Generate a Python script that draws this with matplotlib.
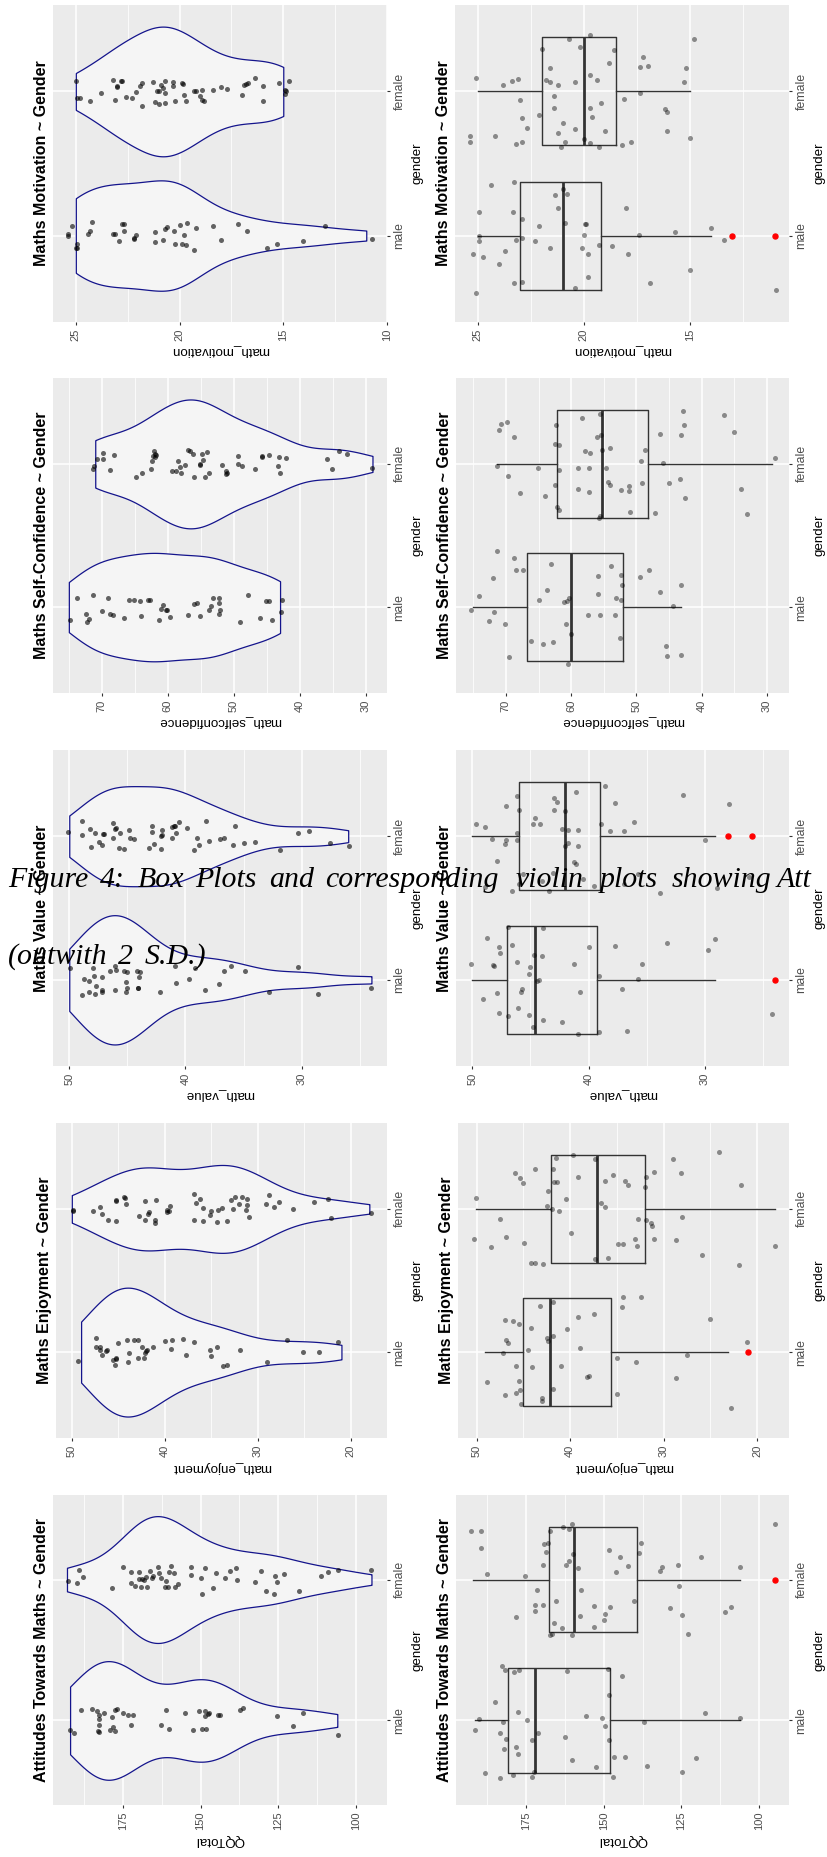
import numpy as np
import matplotlib
matplotlib.use("Agg")
import matplotlib.pyplot as plt

plt.rcParams['font.family'] = ['Liberation Sans', 'DejaVu Sans']

# ---------------- text / categories ----------------
TITLES = ["Maths Motivation ~ Gender", "Maths Self-Confidence ~ Gender",
          "Maths Value ~ Gender", "Maths Enjoyment ~ Gender",
          "Attitudes Towards Maths ~ Gender"]
YLABELS = ["math_motivation", "math_selfconfidence", "math_value",
           "math_enjoyment", "QQTotal"]
CATEGORIES = ["male", "female"]
MAJOR_TICKS = [[10, 15, 20, 25], [30, 40, 50, 60, 70], [30, 40, 50],
               [20, 30, 40, 50], [100, 125, 150, 175]]
CAPTION_1_WORDS = ["Figure", "4:", "Box", "Plots", "and", "corresponding", "violin", "plots", "showing", "Att"]
CAPTION_2_WORDS = ["(outwith", "2", "S.D.)"]

# ---------------- data ----------------
# violin panels: jittered values and jitter offsets (category units)
MOT_VIO_M = [25.37, 25.37, 25.2, 25.0, 24.94, 24.94, 24.4, 24.3, 24.2, 23.2, 23.1, 22.9, 22.75, 22.7, 22.7,
             22.2, 22.2, 22.1, 21.2, 21.2, 20.8, 20.7, 20.6, 20.25, 20.2, 20.0, 19.9, 19.8, 19.7, 19.65,
             19.3, 19.2, 18.4, 18.0, 17.2, 16.75, 15.8, 15.3, 14.05, 13.0, 10.7]
MOT_VIO_M_J = [0.012, 0.0, 0.069, -0.085, -0.085, -0.062, 0.012, 0.03, 0.095, 0.014, 0.012, -0.039, 0.081,
               0.081, 0.035, -0.016, -0.025, 0.007, 0.023, -0.044, -0.028, 0.048, 0.058, 0.03, -0.062, 0.076,
               -0.062, 0.007, -0.069, 0.088, -0.097, 0.053, 0.069, -0.028, 0.081, 0.035, -0.085, -0.062,
               -0.035, 0.069, -0.021]
MOT_VIO_F = [24.97, 24.94, 24.8, 24.3, 23.8, 23.2, 23.1, 23.0, 23.0, 22.8, 22.75, 22.6, 22.3, 22.1, 21.9,
             21.8, 21.8, 21.3, 21.2, 21.1, 21.0, 21.0, 20.9, 20.8, 20.7, 20.7, 20.7, 20.3, 20.3, 20.2, 19.9,
             19.85, 19.8, 19.7, 19.3, 19.2, 18.9, 19.0, 18.9, 18.8, 18.4, 18.0, 17.7, 17.0, 16.9, 16.8, 16.7,
             16.35, 16.0, 16.0, 15.2, 14.9, 14.9, 14.85, 14.7]
MOT_VIO_F_J = [0.074, -0.046, -0.046, -0.065, -0.012, 0.081, -0.06, 0.028, 0.035, 0.076, 0.076, -0.039,
               -0.046, -0.005, 0.035, 0.058, -0.1, 0.069, -0.072, 0.0, -0.085, 0.005, 0.046, 0.023, 0.076,
               -0.081, -0.012, 0.069, 0.035, -0.069, 0.058, 0.051, -0.023, -0.065, 0.0, 0.0, 0.007, -0.035,
               -0.06, -0.069, 0.009, 0.028, 0.016, -0.028, 0.042, 0.051, 0.062, 0.09, -0.065, 0.035, 0.058,
               -0.018, 0.012, 0.0, 0.076]

SC_VIO_M = [74.8, 73.8, 72.4, 72.2, 71.9, 71.3, 70.05, 69.1, 68.7, 68.3, 66.6, 65.9, 65.2, 64.2, 64.0, 63.0,
            62.7, 61.3, 61.0, 60.75, 60.35, 60.15, 59.6, 57.0, 56.1, 55.6, 55.1, 53.7, 53.5, 53.1, 52.3, 52.2,
            52.3, 52.1, 49.1, 47.9, 46.1, 45.1, 44.75, 44.2, 42.9, 42.7]
SC_VIO_M_J = [-0.093, 0.063, -0.047, -0.105, -0.081, 0.086, -0.028, 0.063, -0.047, -0.056, -0.074, 0.051,
              0.051, 0.042, -0.063, 0.047, 0.053, -0.088, -0.012, 0.016, -0.023, -0.023, -0.07, -0.056, 0.019,
              0.028, -0.063, -0.019, 0.005, 0.063, 0.03, 0.065, -0.047, -0.023, -0.105, 0.081, -0.074, 0.042,
              0.042, -0.088, -0.035, 0.047]
SC_VIO_F = [71.3, 71.2, 70.7, 69.85, 69.75, 68.1, 68.8, 64.8, 63.9, 62.5, 62.4, 62.3, 62.1, 61.9, 61.8, 62.0,
            59.4, 58.7, 58.4, 58.1, 58.0, 57.4, 56.9, 56.6, 56.2, 56.1, 55.2, 55.1, 54.9, 54.7, 54.3, 54.1,
            53.7, 51.8, 51.2, 51.2, 51.1, 49.4, 49.4, 48.7, 46.8, 45.8, 45.7, 44.7, 43.3, 43.1, 43.0, 42.1,
            35.9, 35.15, 34.1, 32.8, 29.1]
SC_VIO_F_J = [-0.035, -0.012, 0.035, 0.079, 0.035, 0.063, -0.04, -0.088, -0.06, -0.037, 0.023, 0.058, 0.093,
              0.07, 0.065, 0.047, -0.053, -0.053, 0.023, -0.023, -0.065, -0.005, 0.098, 0.088, 0.07, -0.093,
              -0.005, 0.0, 0.07, 0.028, -0.093, 0.086, -0.06, -0.005, -0.047, -0.07, -0.065, 0.058, 0.0,
              -0.014, -0.037, 0.056, 0.051, 0.063, -0.012, 0.049, -0.06, 0.042, 0.035, -0.035, 0.093, 0.07,
              -0.03]

VAL_VIO_M = [49.9, 48.9, 48.7, 48.3, 48.3, 47.9, 47.8, 47.7, 47.2, 47.2, 47.2, 46.1, 46.0, 46.1, 45.3, 45.1,
             45.1, 45.0, 45.0, 44.2, 44.0, 43.9, 44.1, 44.1, 42.2, 40.9, 40.8, 39.7, 39.2, 38.3, 37.1, 36.7,
             36.1, 34.9, 32.8, 30.3, 28.6, 24.0, 46.5, 48.0]
VAL_VIO_M_J = [0.079, -0.105, 0.005, -0.084, -0.007, 0.026, -0.096, -0.042, -0.084, -0.07, 0.019, 0.093,
               0.065, -0.068, 0.063, -0.014, -0.082, -0.054, 0.051, 0.063, 0.021, 0.056, -0.054, -0.054,
               -0.082, 0.093, -0.023, 0.007, 0.079, -0.068, -0.028, 0.063, 0.093, 0.063, -0.082, 0.089,
               -0.096, -0.054, 0.06, 0.08]
VAL_VIO_F = [50.1, 48.9, 48.9, 48.2, 48.1, 47.8, 47.4, 47.2, 47.1, 47.0, 46.2, 46.2, 46.1, 46.0, 45.7, 45.6,
             45.3, 44.9, 44.8, 44.4, 43.1, 42.9, 42.9, 42.7, 42.1, 42.05, 42.1, 42.0, 41.2, 41.2, 41.0, 40.9,
             40.8, 40.6, 39.9, 39.3, 39.0, 38.8, 38.2, 38.0, 37.0, 36.7, 35.9, 35.7, 35.0, 34.0, 31.9, 30.3,
             29.4, 27.6, 25.9]
VAL_VIO_F_J = [0.03, 0.105, 0.007, 0.051, -0.075, 0.021, -0.04, -0.063, 0.014, 0.016, 0.091, -0.014, 0.049,
               0.056, -0.082, 0.021, -0.089, 0.042, -0.014, -0.021, -0.084, 0.072, 0.03, -0.056, -0.089,
               0.044, 0.002, 0.007, -0.014, 0.061, 0.068, 0.072, 0.021, 0.1, 0.056, -0.096, -0.014, -0.063,
               0.107, -0.033, -0.021, -0.014, -0.063, 0.072, -0.049, -0.04, -0.096, 0.021, 0.037, -0.049,
               -0.068]

ENJ_VIO_M = [49.3, 47.4, 47.4, 47.0, 47.0, 46.8, 46.3, 46.2, 45.6, 45.35, 45.2, 45.2, 45.0, 44.1, 44.0,
             43.85, 43.3, 42.9, 42.9, 42.4, 42.2, 42.1, 42.05, 41.9, 41.3, 40.0, 39.2, 39.3, 38.0, 37.75, 36.9,
             35.1, 35.0, 34.4, 33.7, 33.35, 31.9, 29.0, 26.9, 25.1, 23.4, 21.35]
ENJ_VIO_M_J = [-0.06, 0.097, 0.035, 0.039, 0.016, -0.019, 0.007, 0.016, -0.058, -0.088, -0.049, -0.042,
               0.0625, 0.086, -0.069, -0.007, 0.081, 0.086, -0.042, 0.035, -0.042, -0.007, 0.005, 0.012,
               0.039, 0.079, 0.086, 0.021, 0.09, -0.021, 0.069, 0.012, -0.03, 0.039, -0.095, -0.09, 0.016,
               -0.069, 0.086, 0.0, 0.0, 0.072]
ENJ_VIO_F = [49.9, 49.9, 47.7, 47.0, 46.8, 46.1, 45.2, 45.2, 45.2, 44.4, 44.3, 44.2, 42.8, 42.1, 42.1, 41.8,
             41.7, 41.0, 41.0, 40.9, 39.8, 39.8, 39.6, 39.4, 36.9, 36.9, 36.6, 36.2, 35.9, 35.9, 35.1, 35.0,
             34.4, 34.3, 33.8, 33.35, 32.9, 32.7, 32.4, 32.0, 31.7, 31.2, 31.2, 31.3, 30.9, 29.1, 28.8, 28.3,
             27.7, 26.2, 23.9, 22.4, 22.1, 17.8]
ENJ_VIO_F_J = [-0.005, -0.012, -0.012, 0.012, -0.035, -0.074, 0.0625, 0.058, -0.081, 0.086, 0.076, 0.035,
               -0.049, 0.056, -0.074, -0.035, -0.019, -0.076, -0.097, 0.0625, -0.005, -0.023, -0.012, 0.019,
               0.104, -0.074, 0.039, 0.069, 0.005, -0.081, -0.042, -0.012, -0.09, -0.007, 0.005, -0.081,
               0.0625, -0.002, 0.081, 0.032, 0.081, 0.069, 0.028, -0.005, -0.056, 0.032, 0.095, 0.012, 0.049,
               -0.002, 0.051, 0.069, -0.0625, -0.028]

QQ_VIO_M = [191.9, 190.6, 188.6, 185.0, 183.3, 182.8, 182.7, 182.7, 183.1, 182.8, 181.2, 179.3, 178.4, 178.2,
            177.7, 177.4, 176.9, 175.0, 173.4, 172.3, 171.8, 162.6, 161.25, 160.2, 154.9, 152.5, 150.6, 149.4,
            148.5, 148.1, 148.5, 147.6, 147.3, 144.4, 143.6, 137.4, 136.5, 125.4, 120.2, 117.0, 105.7]
QQ_VIO_M_J = [-0.071, -0.087, 0.076, 0.08, 0.069, 0.04, 0.012, -0.035, -0.076, -0.083, 0.052, -0.066, 0.024,
              -0.043, -0.076, 0.071, 0.078, 0.054, 0.04, -0.035, 0.04, -0.031, 0.076, -0.059, 0.054, -0.071,
              0.064, -0.059, 0.064, -0.064, 0.035, 0.047, 0.054, 0.04, 0.04, 0.071, 0.087, 0.033, -0.038,
              0.054, -0.102]
QQ_VIO_F = [192.7, 189.8, 189.2, 187.7, 178.5, 175.0, 172.3, 172.3, 171.2, 169.8, 169.8, 169.1, 168.8, 168.3,
            167.5, 167.4, 166.2, 165.7, 165.3, 163.6, 163.4, 162.6, 161.4, 161.0, 160.5, 160.2, 159.4, 158.7,
            158.25, 157.2, 153.2, 153.0, 150.0, 149.5, 148.7, 145.9, 144.9, 142.0, 140.6, 138.6, 138.25, 132.6,
            130.7, 128.8, 126.45, 125.9, 125.3, 123.2, 118.4, 111.4, 109.0, 105.8, 95.0]
QQ_VIO_F_J = [-0.007, -0.026, 0.066, 0.017, -0.059, 0.092, 0.052, -0.026, -0.047, 0.057, 0.002, -0.054, 0.005,
              -0.002, 0.021, -0.05, 0.061, 0.012, 0.028, 0.087, 0.045, 0.012, -0.05, -0.009, -0.05, 0.052,
              0.099, 0.05, -0.05, -0.031, 0.092, 0.031, 0.009, -0.102, 0.083, -0.059, 0.045, 0.009, 0.064,
              0.08, -0.002, -0.019, 0.064, -0.078, -0.102, 0.024, -0.019, 0.038, -0.078, 0.024, 0.054, 0.069,
              0.066]

# box-plot panels: jittered values and jitter offsets
MOT_BOX_M = [24.4, 23.3, 24.95, 23.35, 22.9, 22.13, 21.2, 21.36, 21.0, 20.8, 20.9, 19.95, 19.9, 24.97, 24.95,
             25.25, 24.76, 24.0, 23.7, 23.2, 22.9, 22.3, 21.6, 20.0, 20.1, 19.8, 19.3, 18.7, 18.0, 17.9, 17.4,
             15.7, 14.0, 13.4, 15.0, 16.9, 19.8, 20.4, 22.9, 23.3, 25.1, 10.96]
MOT_BOX_M_J = [0.35, 0.375, 0.16, 0.16, 0.115, 0.067, 0.19, 0.28, 0.325, 0.29, 0.088, 0.077, 0.077, -0.035,
               -0.005, -0.13, -0.146, -0.2, -0.11, -0.03, -0.014, -0.04, -0.086, 0.007, -0.086, -0.13, -0.065,
               -0.07, 0.19, -0.125, 0.007, 0.028, 0.051, -0.028, -0.24, -0.33, -0.285, -0.365, -0.325, -0.33,
               -0.4, -0.38]
MOT_BOX_F = [19.7, 20.7, 14.8, 22.0, 20.2, 18.6, 18.8, 21.6, 17.35, 17.0, 17.2, 15.2, 19.7, 19.4, 21.8, 21.6,
             21.2, 20.4, 25.1, 23.8, 23.4, 23.1, 15.3, 17.35, 18.1, 23.0, 21.4, 19.2, 21.4, 19.7, 19.6, 16.2,
             16.1, 22.1, 22.9, 21.0, 22.7, 20.4, 19.0, 16.1, 25.35, 25.35, 24.2, 21.2, 20.0, 20.9, 22.9, 23.2,
             21.1, 19.7, 19.3, 18.2, 17.8, 15.0]
MOT_BOX_F_J = [0.39, 0.365, 0.365, 0.295, 0.31, 0.288, 0.197, 0.162, 0.172, 0.179, 0.237, 0.162, 0.116, 0.081,
               0.081, 0.063, 0.046, 0.067, 0.095, 0.046, 0.07, 0.086, 0.067, -0.014, -0.049, -0.056, -0.035,
               -0.077, -0.116, -0.116, -0.179, -0.123, -0.142, -0.165, -0.186, -0.22, -0.255, -0.26, -0.276,
               -0.276, -0.31, -0.35, -0.31, -0.29, -0.327, -0.35, -0.35, -0.367, -0.385, -0.36, -0.385,
               -0.373, -0.35, -0.322]

SC_BOX_M = [71.3, 68.7, 68.4, 67.4, 72.0, 63.1, 53.9, 48.0, 49.5, 52.4, 55.9, 52.2, 43.2, 63.7, 74.1, 64.9,
            61.1, 60.7, 60.4, 55.9, 53.1, 52.4, 46.4, 75.4, 71.9, 72.6, 70.1, 60.8, 60.05, 57.4, 55.5, 53.2,
            44.4, 66.1, 64.3, 62.8, 52.5, 69.5, 60.5, 45.4, 45.3, 43.2]
SC_BOX_M_J = [0.39, 0.345, 0.26, 0.26, 0.205, 0.3, 0.286, 0.26, 0.21, 0.226, 0.219, 0.156, 0.156, 0.121, 0.074,
              0.053, 0.035, 0.042, 0.065, 0.093, 0.065, 0.053, 0.102, -0.023, -0.035, -0.098, -0.116, -0.116,
              -0.186, -0.058, -0.058, -0.058, 0.005, -0.237, -0.256, -0.242, -0.219, -0.349, -0.4, -0.27,
              -0.344, -0.337]
SC_BOX_F = [58.4, 55.5, 42.9, 36.5, 69.85, 70.8, 71.1, 62.3, 68.8, 55.4, 56.0, 46.4, 43.1, 42.7, 35.05, 62.4,
            61.9, 57.8, 57.1, 55.2, 54.1, 48.7, 49.3, 45.9, 71.4, 65.1, 59.0, 57.2, 54.7, 61.9, 28.8, 69.7,
            54.4, 54.1, 49.1, 45.0, 43.3, 62.5, 58.9, 57.2, 52.4, 51.1, 51.1, 33.9, 67.9, 64.0, 42.6, 62.2,
            61.9, 55.7, 55.5, 51.0, 47.2, 33.1]
SC_BOX_F_J = [0.319, 0.349, 0.367, 0.344, 0.29, 0.279, 0.237, 0.272, 0.19, 0.205, 0.19, 0.209, 0.202, 0.272,
              0.223, 0.14, 0.135, 0.093, 0.079, 0.1, 0.112, 0.098, 0.023, 0.007, -0.014, -0.03, -0.026, -0.03,
              -0.026, -0.042, 0.04, -0.086, -0.128, -0.147, -0.135, -0.135, -0.107, -0.147, -0.174, -0.195,
              -0.181, -0.153, -0.186, -0.174, -0.205, -0.223, -0.235, -0.298, -0.321, -0.377, -0.367, -0.333,
              -0.34, -0.349]

VAL_BOX_M = [46.9, 43.9, 48.7, 46.6, 40.0, 37.7, 33.3, 29.1, 47.7, 47.6, 29.7, 44.7, 44.0, 50.1, 48.2, 48.1,
             46.2, 41.3, 35.4, 45.0, 45.1, 39.1, 35.8, 44.3, 44.4, 49.1, 47.9, 45.7, 45.8, 40.7, 37.1, 46.1,
             47.7, 46.9, 45.1, 43.9, 42.3, 44.8, 40.9, 39.1, 36.7, 24.2]
VAL_BOX_M_J = [0.371, 0.36, 0.29, 0.243, 0.227, 0.234, 0.257, 0.283, 0.227, 0.187, 0.208, 0.173, 0.166, 0.11,
               0.103, 0.096, 0.126, 0.11, 0.11, 0.089, 0.04, 0.026, 0.009, -0.002, -0.007, -0.131, -0.089,
               -0.061, -0.082, -0.082, -0.061, -0.194, -0.234, -0.255, -0.248, -0.283, -0.297, -0.329, -0.374,
               -0.36, -0.353, -0.241]
VAL_BOX_F = [38.6, 41.1, 31.9, 27.9, 46.2, 42.95, 42.7, 47.1, 46.0, 42.95, 42.0, 37.7, 44.6, 44.8, 44.2, 49.7,
             48.9, 36.1, 38.9, 42.3, 41.8, 40.9, 38.2, 37.0, 46.2, 48.3, 47.1, 46.2, 30.0, 47.2, 42.0, 41.8,
             40.9, 47.9, 41.3, 41.1, 45.6, 43.1, 35.8, 46.0, 48.9, 46.6, 43.4, 37.0, 33.9, 29.0, 26.2, 44.0,
             39.5, 40.5]
VAL_BOX_F_J = [0.346, 0.306, 0.285, 0.222, 0.283, 0.264, 0.236, 0.208, 0.182, 0.182, 0.175, 0.231, 0.126,
               0.084, 0.084, 0.084, 0.063, 0.098, 0.084, 0.049, 0.044, 0.044, 0.037, 0.037, 0.021, -0.021,
               -0.026, -0.026, -0.026, -0.056, -0.068, -0.049, -0.068, -0.171, -0.178, -0.194, -0.266, -0.259,
               -0.266, -0.334, -0.357, -0.381, -0.381, -0.334, -0.393, -0.36, -0.283, -0.31, -0.35, -0.3]

ENJ_BOX_M = [41.8, 43.2, 37.5, 39.2, 34.4, 34.5, 32.4, 47.0, 46.1, 45.5, 44.2, 40.3, 25.1, 46.9, 46.7, 42.5,
             42.4, 41.8, 47.2, 44.5, 38.9, 21.1, 35.0, 33.0, 27.5, 45.8, 44.1, 41.0, 38.2, 38.0, 28.7, 48.9,
             45.5, 45.4, 45.8, 47.0, 41.8, 43.0, 43.0, 45.3, 35.0, 22.75]
ENJ_BOX_M_J = [0.35, 0.319, 0.268, 0.245, 0.382, 0.315, 0.382, 0.227, 0.22, 0.199, 0.171, 0.164, 0.234, 0.083,
               0.062, 0.097, 0.079, 0.111, -0.007, 0.016, 0.028, 0.069, -0.042, -0.069, -0.023, -0.095, -0.104,
               -0.095, -0.176, -0.169, -0.18, -0.21, -0.204, -0.266, -0.285, -0.303, -0.257, -0.319, -0.343,
               -0.361, -0.292, -0.389]
ENJ_BOX_F = [39.7, 41.5, 37.4, 24.1, 29.0, 43.8, 45.9, 45.4, 45.1, 41.8, 41.75, 41.4, 39.2, 35.4, 36.25, 34.1,
             33.8, 31.9, 31.0, 28.1, 32.0, 21.7, 42.4, 50.1, 40.4, 42.5, 41.9, 41.25, 36.75, 36.3, 47.5, 32.75,
             31.9, 31.4, 31.25, 28.0, 50.25, 46.9, 44.9, 39.9, 48.5, 34.9, 34.4, 33.1, 32.9, 31.0, 28.7, 25.9,
             44.2, 43.8, 42.9, 37.3, 36.0, 21.9, 18.1]
ENJ_BOX_F_J = [0.377, 0.359, 0.347, 0.394, 0.35, 0.278, 0.252, 0.213, 0.183, 0.278, 0.19, 0.19, 0.225, 0.238,
               0.192, 0.192, 0.164, 0.225, 0.259, 0.248, 0.15, 0.169, 0.127, 0.076, 0.067, 0.019, 0.0, -0.012,
               0.042, 0.012, -0.069, -0.069, -0.076, -0.1, -0.118, -0.056, -0.213, -0.199, -0.241, -0.167,
               -0.266, -0.248, -0.248, -0.213, -0.259, -0.213, -0.22, -0.322, -0.377, -0.375, -0.384, -0.352,
               -0.34, -0.389, -0.262]

QQ_BOX_M = [182.7, 181.9, 178.75, 177.1, 161.7, 144.0, 148.6, 148.4, 185.1, 177.6, 190.0, 182.5, 174.8, 155.6,
            150.5, 149.5, 136.9, 117.4, 106.1, 191.5, 183.25, 181.4, 173.1, 171.1, 162.6, 148.4, 182.2, 178.1,
            177.4, 160.2, 146.8, 143.1, 120.25, 188.3, 183.5, 179.3, 173.1, 172.5, 152.5, 147.1, 136.0, 124.9]
QQ_BOX_M_J = [0.389, 0.36, 0.341, 0.358, 0.353, 0.318, 0.365, 0.178, 0.13, 0.062, 0.012, -0.012, 0.0, 0.033,
              0.019, -0.04, -0.012, 0.055, 0.019, -0.071, -0.088, -0.13, -0.142, -0.088, -0.116, -0.142, -0.204,
              -0.185, -0.237, -0.284, -0.256, -0.256, -0.268, -0.374, -0.41, -0.389, -0.403, -0.363, -0.332,
              -0.398, -0.325, -0.367]
QQ_BOX_F = [160.3, 163.1, 161.3, 192.6, 189.5, 167.2, 189.3, 169.3, 168.0, 168.4, 148.4, 144.9, 137.9, 138.5,
            118.6, 162.25, 161.1, 159.9, 169.5, 158.4, 187.4, 175.4, 146.2, 142.2, 132.0, 131.3, 126.1, 106.3,
            171.5, 157.2, 125.9, 172.2, 172.2, 169.5, 165.25, 153.1, 148.1, 140.4, 128.8, 109.0, 110.9, 178.1,
            157.75, 149.5, 149.8, 124.9, 166.1, 163.4, 153.1, 167.4, 166.5, 160.3, 122.9, 94.9]
QQ_BOX_F_J = [0.393, 0.374, 0.362, 0.346, 0.344, 0.344, 0.223, 0.251, 0.258, 0.194, 0.209, 0.161, 0.256, 0.19,
              0.159, 0.102, 0.13, 0.18, 0.102, 0.083, 0.04, 0.026, 0.055, 0.095, 0.062, 0.09, 0.102, 0.088,
              -0.076, -0.076, -0.045, -0.178, -0.225, -0.178, -0.154, -0.185, -0.197, -0.154, -0.204, -0.197,
              -0.232, -0.265, -0.261, -0.242, -0.289, -0.254, -0.306, -0.344, -0.336, -0.396, -0.386, -0.39,
              -0.386, 0.391]

# box statistics: (whisker low, Q1, median, Q3, whisker high)
BOX_STATS_MALE = [(14.0, 19.2, 21.0, 23.0, 25.0), (43.2, 52.0, 60.0, 66.7, 75.0), (29.1, 39.3, 44.6, 47.0, 50.0),
                  (23.1, 35.6, 42.2, 45.1, 49.1), (106.1, 148.1, 172.2, 180.8, 191.3)]
BOX_STATS_FEMALE = [(15.0, 18.5, 20.0, 22.0, 25.0), (29.2, 48.2, 55.2, 62.1, 71.3), (29.1, 39.0, 42.0, 46.0, 50.0),
                    (18.1, 32.0, 37.1, 42.1, 50.1), (106.3, 139.2, 159.4, 167.7, 192.1)]
OUTLIERS_MALE = [[13, 11], [], [24], [21], []]
OUTLIERS_FEMALE = [[], [], [28, 26], [], [95]]

VIOLIN_SETS = [(MOT_VIO_M, MOT_VIO_M_J, MOT_VIO_F, MOT_VIO_F_J),
               (SC_VIO_M, SC_VIO_M_J, SC_VIO_F, SC_VIO_F_J),
               (VAL_VIO_M, VAL_VIO_M_J, VAL_VIO_F, VAL_VIO_F_J),
               (ENJ_VIO_M, ENJ_VIO_M_J, ENJ_VIO_F, ENJ_VIO_F_J),
               (QQ_VIO_M, QQ_VIO_M_J, QQ_VIO_F, QQ_VIO_F_J)]
BOX_SETS = [(MOT_BOX_M, MOT_BOX_M_J, MOT_BOX_F, MOT_BOX_F_J),
            (SC_BOX_M, SC_BOX_M_J, SC_BOX_F, SC_BOX_F_J),
            (VAL_BOX_M, VAL_BOX_M_J, VAL_BOX_F, VAL_BOX_F_J),
            (ENJ_BOX_M, ENJ_BOX_M_J, ENJ_BOX_F, ENJ_BOX_F_J),
            (QQ_BOX_M, QQ_BOX_M_J, QQ_BOX_F, QQ_BOX_F_J)]

# ---------------- layout (pixels) ----------------
W, H = 827, 1857
ROW_Y = [(5, 322), (378, 693), (750, 1066), (1123, 1438), (1495, 1805)]
LEFT_X = [(53, 387), (53, 387), (53, 387), (56, 387), (53, 387)]
RIGHT_X = [(455, 789), (456, 789), (456, 789), (458, 789), (456, 789)]
XLIM_L = [(26.1, 10.0), (77.4, 26.8), (51.4, 22.66), (51.7, 16.1), (197.5, 90.0)]
XLIM_R = [(26.08, 10.33), (77.65, 26.6), (51.4, 22.78), (52.0, 16.6), (197.5, 90.4)]
CAPTION_1_X = [8, 100, 138, 195, 269, 325, 516, 600, 672, 777]
CAPTION_2_X = [8, 118, 145]
CAPTION_Y = [880, 957]

PANEL_BG = '#EBEBEB'
TICK_TXT = '#4D4D4D'
LINE_DARK = '#333333'

fig = plt.figure(figsize=(W / 100, H / 100), dpi=100)
fig.patch.set_facecolor('white')


def add_axes(xr, yr):
    x0, x1 = xr
    y0, y1 = yr
    return fig.add_axes([x0 / W, 1 - y1 / H, (x1 - x0) / W, (y1 - y0) / H])


def style_axes(ax, xlim, majors, xlabel):
    ax.set_facecolor(PANEL_BG)
    for s in ax.spines.values():
        s.set_visible(False)
    ax.set_xlim(*xlim)
    ax.set_ylim(0.4, 2.6)
    ax.set_xticks(majors)
    ax.set_xticklabels([str(t) for t in majors])
    step = majors[1] - majors[0]
    lo, hi = min(xlim), max(xlim)
    minors = [m + step / 2 for m in [majors[0] - step] + list(majors)]
    ax.set_xticks([m for m in minors if lo < m < hi], minor=True)
    ax.set_yticks([1, 2])
    ax.set_yticklabels(CATEGORIES)
    ax.yaxis.tick_right()
    ax.tick_params(axis='x', which='major', direction='out', length=2.2, width=0.8,
                   color=LINE_DARK, labelcolor=TICK_TXT, labelsize=8, labelrotation=90, pad=2.5)
    ax.tick_params(axis='x', which='minor', length=0)
    ax.tick_params(axis='y', which='major', direction='out', length=2.2, width=0.8,
                   color=LINE_DARK, labelcolor=TICK_TXT, labelsize=8.8, labelrotation=90, pad=2.5,
                   left=False, right=True, labelleft=False, labelright=True)
    for t in ax.yaxis.get_major_ticks():
        t.label2.set_va('center')
    ax.grid(which='major', color='white', lw=1.1)
    ax.grid(which='minor', axis='x', color='white', lw=0.55)
    ax.set_axisbelow(True)
    ax.set_xlabel(xlabel, rotation=180, fontsize=9.6, labelpad=3, color='black')
    ax.yaxis.set_label_position('right')
    ax.set_ylabel('gender', fontsize=9.6, labelpad=4, color='black')


def add_title(xr, yr, text):
    xc = xr[0] - 11.5
    yc = (yr[0] + yr[1]) / 2
    fig.text(xc / W, 1 - yc / H, text, rotation=90, ha='center', va='center',
             fontsize=11.5, fontweight='bold', color='black')


def nrd0(x):
    sd = np.std(x, ddof=1)
    q75, q25 = np.percentile(x, [75, 25])
    lo = min(sd, (q75 - q25) / 1.34)
    if lo <= 0:
        lo = sd if sd > 0 else 1.0
    return 0.9 * lo * len(x) ** -0.2


def density(vals):
    x = np.round(np.asarray(vals, float))
    bw = nrd0(x)
    g = np.linspace(x.min(), x.max(), 512)
    d = np.exp(-0.5 * ((g[:, None] - x[None, :]) / bw) ** 2).sum(1) / (len(x) * bw * np.sqrt(2 * np.pi))
    return g, d


def pairs(v, j):
    n = min(len(v), len(j))
    return np.asarray(v[:n], float), np.asarray(j[:n], float)


for i in range(5):
    # ---------- violin panel ----------
    axv = add_axes(LEFT_X[i], ROW_Y[i])
    style_axes(axv, XLIM_L[i], MAJOR_TICKS[i], YLABELS[i])
    vm, jm, vf, jf = VIOLIN_SETS[i]
    gm, dm = density(vm)
    gf, df = density(vf)
    mx = max(dm.max(), df.max())
    for pos, g, d in ((1, gm, dm), (2, gf, df)):
        hw = 0.45 * d / mx
        axv.fill_between(g, pos - hw, pos + hw, facecolor='#F5F5F5', edgecolor='#14148C',
                         linewidth=0.9, zorder=2)
    for pos, v, j in ((1, vm, jm), (2, vf, jf)):
        vv, jj = pairs(v, j)
        axv.scatter(vv, pos + jj, s=13, c='black', alpha=0.6, linewidths=0, zorder=3)
    add_title(LEFT_X[i], ROW_Y[i], TITLES[i])

    # ---------- box panel ----------
    axb = add_axes(RIGHT_X[i], ROW_Y[i])
    style_axes(axb, XLIM_R[i], MAJOR_TICKS[i], YLABELS[i])
    stats = []
    for st, outl in ((BOX_STATS_MALE[i], OUTLIERS_MALE[i]), (BOX_STATS_FEMALE[i], OUTLIERS_FEMALE[i])):
        stats.append(dict(whislo=st[0], q1=st[1], med=st[2], q3=st[3], whishi=st[4],
                          fliers=np.asarray(outl, float)))
    kw = dict(positions=[1, 2], widths=0.75, showcaps=False, manage_ticks=False,
              boxprops=dict(color=LINE_DARK, linewidth=1.0),
              whiskerprops=dict(color=LINE_DARK, linewidth=1.0),
              medianprops=dict(color=LINE_DARK, linewidth=2.0),
              flierprops=dict(marker='o', markerfacecolor='red', markeredgecolor='red',
                              markersize=3.6, linestyle='none'))
    try:
        axb.bxp(stats, orientation='horizontal', **kw)
    except TypeError:
        axb.bxp(stats, vert=False, **kw)
    bm, bjm, bf, bjf = BOX_SETS[i]
    for pos, v, j in ((1, bm, bjm), (2, bf, bjf)):
        vv, jj = pairs(v, j)
        axb.scatter(vv, pos + jj, s=13, c='black', alpha=0.42, linewidths=0, zorder=4)
    axb.set_ylim(0.4, 2.6)
    axb.set_xlim(*XLIM_R[i])
    add_title(RIGHT_X[i], ROW_Y[i], TITLES[i])

# ---------------- caption overlay (justified line, words placed as in the page) ----------------
cap_kw = dict(family=['Liberation Serif', 'DejaVu Serif'], style='italic', fontsize=21.5,
              ha='left', va='center', color='black', zorder=100)
for words, xs, yp in ((CAPTION_1_WORDS, CAPTION_1_X, CAPTION_Y[0]),
                      (CAPTION_2_WORDS, CAPTION_2_X, CAPTION_Y[1])):
    for word, xp in zip(words, xs):
        fig.text(xp / W, 1 - yp / H, word, **cap_kw)

fig.savefig('out.png', dpi=100, facecolor='white')
